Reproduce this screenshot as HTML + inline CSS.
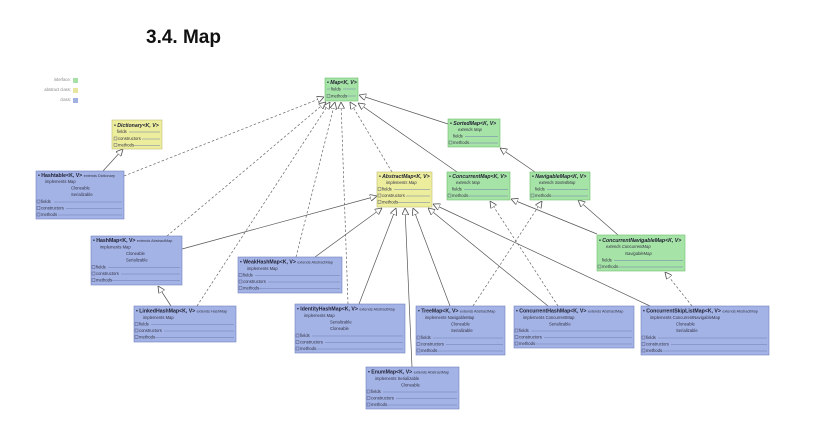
<!DOCTYPE html>
<html><head><meta charset="utf-8"><style>
html,body{margin:0;padding:0;background:#fff;width:815px;height:421px;overflow:hidden}
svg{display:block}
text{font-family:"Liberation Sans",sans-serif;fill:#223}
.h{font-size:5.2px;font-weight:bold}
.i{font-style:italic}
.s{font-size:4.2px;fill:#334}
.e{font-size:3.8px;font-weight:normal;font-style:normal;fill:#334}
.sep{stroke:#6f7fb0;stroke-width:0.5}
.l{stroke:#555;stroke-width:0.7;fill:none}
.d{stroke:#666;stroke-width:0.7;fill:none;stroke-dasharray:2.5,2}
</style></head><body>
<svg width="815" height="421" viewBox="0 0 815 421" xmlns="http://www.w3.org/2000/svg">
<defs>
<marker id="a" viewBox="0 0 10 10" refX="10" refY="5" markerWidth="7" markerHeight="7" orient="auto" markerUnits="userSpaceOnUse">
<path d="M0,0 L10,5 L0,10 Z" fill="#fff" stroke="#555" stroke-width="1.2"/>
</marker>
</defs>
<text x="146" y="43" style="font-size:19px;font-weight:bold;fill:#111">3.4. Map</text>
<!-- legend -->
<text x="71" y="81" class="s" text-anchor="end" style="fill:#888">interface:</text>
<text x="71" y="91" class="s" text-anchor="end" style="fill:#888">abstract class:</text>
<text x="71" y="101" class="s" text-anchor="end" style="fill:#888">class:</text>
<rect x="73" y="78" width="5" height="5" fill="#a6e0a6"/>
<rect x="73" y="88" width="5" height="5" fill="#e6e6a0"/>
<rect x="73" y="98" width="5" height="5" fill="#a0b0e0"/>

<!-- connectors -->
<g>
<line class="l" x1="103" y1="171" x2="123" y2="149" marker-end="url(#a)"/>
<line class="d" x1="124" y1="176" x2="324" y2="97" marker-end="url(#a)"/>
<line class="d" x1="167" y1="236" x2="326" y2="102" marker-end="url(#a)"/>
<line class="d" x1="197" y1="306" x2="330" y2="102" marker-end="url(#a)"/>
<line class="d" x1="296" y1="257" x2="335" y2="102" marker-end="url(#a)"/>
<line class="d" x1="348" y1="304" x2="341" y2="102" marker-end="url(#a)"/>
<line class="d" x1="392" y1="172" x2="350" y2="102" marker-end="url(#a)"/>
<line class="l" x1="448" y1="124" x2="359" y2="95" marker-end="url(#a)"/>
<line class="l" x1="457" y1="172" x2="358" y2="103" marker-end="url(#a)"/>
<line class="l" x1="535" y1="172" x2="500" y2="148" marker-end="url(#a)"/>
<line class="l" x1="597" y1="234" x2="511" y2="199" marker-end="url(#a)"/>
<line class="l" x1="618" y1="235" x2="578" y2="200" marker-end="url(#a)"/>
<line class="l" x1="182" y1="249" x2="377" y2="196" marker-end="url(#a)"/>
<line class="l" x1="315" y1="257" x2="382" y2="208" marker-end="url(#a)"/>
<line class="l" x1="171" y1="306" x2="158" y2="286" marker-end="url(#a)"/>
<line class="l" x1="359" y1="304" x2="396" y2="208" marker-end="url(#a)"/>
<line class="l" x1="412" y1="367" x2="405" y2="208" marker-end="url(#a)"/>
<line class="l" x1="450" y1="306" x2="413" y2="208" marker-end="url(#a)"/>
<line class="l" x1="548" y1="306" x2="428" y2="208" marker-end="url(#a)"/>
<line class="l" x1="650" y1="306" x2="433" y2="204" marker-end="url(#a)"/>
<line class="d" x1="473" y1="306" x2="542" y2="201" marker-end="url(#a)"/>
<line class="d" x1="558" y1="306" x2="490" y2="201" marker-end="url(#a)"/>
<line class="d" x1="692" y1="306" x2="665" y2="272" marker-end="url(#a)"/>
</g>

<!-- Map -->
<g>
<rect x="325" y="78" width="33" height="23" fill="#a6e3a6" stroke="#6dbf6d" stroke-width="0.6"/>
<text x="327" y="84" class="h i">• Map&lt;K, V&gt;</text>
<text x="331" y="90.5" class="s">fields</text><line class="sep" x1="327" y1="89" x2="330" y2="89"/><line class="sep" x1="343" y1="89" x2="356" y2="89"/>
<rect x="327" y="94.5" width="3" height="3" fill="none" stroke="#446" stroke-width="0.4"/>
<text x="331" y="97.5" class="s">methods</text><line class="sep" x1="346" y1="96" x2="356" y2="96"/>
</g>

<!-- Dictionary -->
<g>
<rect x="112" y="120" width="50" height="29" fill="#eded9e" stroke="#c0c070" stroke-width="0.6"/>
<text x="114" y="127" class="h i">• Dictionary&lt;K, V&gt;</text>
<text x="117" y="133" class="s">fields</text><line class="sep" x1="129" y1="132" x2="160" y2="132"/>
<rect x="114" y="137" width="3" height="3" fill="none" stroke="#446" stroke-width="0.4"/>
<text x="118" y="140" class="s">constructors</text><line class="sep" x1="142" y1="139" x2="160" y2="139"/>
<rect x="114" y="143.5" width="3" height="3" fill="none" stroke="#446" stroke-width="0.4"/>
<text x="118" y="146.5" class="s">methods</text><line class="sep" x1="134" y1="145.5" x2="160" y2="145.5"/>
</g>

<!-- Hashtable -->
<g>
<rect x="36" y="171" width="88" height="48" fill="#a3b3e6" stroke="#7082c0" stroke-width="0.6"/>
<text x="38" y="177" class="h">• Hashtable&lt;K, V&gt; <tspan class="e">extends Dictionary</tspan></text>
<text x="45" y="183" class="s">implements  Map</text>
<text x="71" y="189.5" class="s">Cloneable</text>
<text x="71" y="196" class="s">Serializable</text>
<g class="s"><text x="41" y="203" class="s">fields</text><text x="41" y="209.5" class="s">constructors</text><text x="41" y="216" class="s">methods</text></g>
<line class="sep" x1="54" y1="202" x2="122" y2="202"/><line class="sep" x1="66" y1="208.5" x2="122" y2="208.5"/><line class="sep" x1="58" y1="215" x2="122" y2="215"/>
<rect x="37" y="200" width="3" height="3" fill="none" stroke="#446" stroke-width="0.4"/><rect x="37" y="206.5" width="3" height="3" fill="none" stroke="#446" stroke-width="0.4"/><rect x="37" y="213" width="3" height="3" fill="none" stroke="#446" stroke-width="0.4"/>
</g>

<!-- AbstractMap -->
<g>
<rect x="377" y="172" width="55" height="35" fill="#eded9e" stroke="#c0c070" stroke-width="0.6"/>
<text x="379" y="178" class="h i">• AbstractMap&lt;K, V&gt;</text>
<text x="386" y="184" class="s" font-style="italic">implements  Map</text>
<text x="382" y="190.5" class="s">fields</text><text x="382" y="197" class="s">constructors</text><text x="382" y="203.5" class="s">methods</text>
<line class="sep" x1="394" y1="189.5" x2="430" y2="189.5"/><line class="sep" x1="406" y1="196" x2="430" y2="196"/><line class="sep" x1="398" y1="202.5" x2="430" y2="202.5"/>
<rect x="378" y="187.5" width="3" height="3" fill="none" stroke="#446" stroke-width="0.4"/><rect x="378" y="194" width="3" height="3" fill="none" stroke="#446" stroke-width="0.4"/><rect x="378" y="200.5" width="3" height="3" fill="none" stroke="#446" stroke-width="0.4"/>
</g>

<!-- SortedMap -->
<g>
<rect x="448" y="119" width="52" height="28" fill="#a6e3a6" stroke="#6dbf6d" stroke-width="0.6"/>
<text x="450" y="125" class="h i">• SortedMap&lt;K, V&gt;</text>
<text x="458" y="131" class="s" font-style="italic">extends  Map</text>
<text x="453" y="137.5" class="s">fields</text><line class="sep" x1="465" y1="136.5" x2="498" y2="136.5"/>
<rect x="449" y="141" width="3" height="3" fill="none" stroke="#446" stroke-width="0.4"/>
<text x="453" y="144" class="s">methods</text><line class="sep" x1="469" y1="143" x2="498" y2="143"/>
</g>

<!-- ConcurrentMap -->
<g>
<rect x="447" y="172" width="63" height="28" fill="#a6e3a6" stroke="#6dbf6d" stroke-width="0.6"/>
<text x="449" y="178" class="h i">• ConcurrentMap&lt;K, V&gt;</text>
<text x="456" y="184" class="s" font-style="italic">extends  Map</text>
<text x="452" y="190.5" class="s">fields</text><line class="sep" x1="464" y1="189.5" x2="508" y2="189.5"/>
<rect x="448" y="194" width="3" height="3" fill="none" stroke="#446" stroke-width="0.4"/>
<text x="452" y="197" class="s">methods</text><line class="sep" x1="468" y1="196" x2="508" y2="196"/>
</g>

<!-- NavigableMap -->
<g>
<rect x="530" y="172" width="60" height="28" fill="#a6e3a6" stroke="#6dbf6d" stroke-width="0.6"/>
<text x="532" y="178" class="h i">• NavigableMap&lt;K, V&gt;</text>
<text x="539" y="184" class="s" font-style="italic">extends  SortedMap</text>
<text x="535" y="190.5" class="s">fields</text><line class="sep" x1="547" y1="189.5" x2="588" y2="189.5"/>
<rect x="531" y="194" width="3" height="3" fill="none" stroke="#446" stroke-width="0.4"/>
<text x="535" y="197" class="s">methods</text><line class="sep" x1="551" y1="196" x2="588" y2="196"/>
</g>

<!-- ConcurrentNavigableMap -->
<g>
<rect x="597" y="235" width="88" height="36" fill="#a6e3a6" stroke="#6dbf6d" stroke-width="0.6"/>
<text x="599" y="242" class="h i">• ConcurrentNavigableMap&lt;K, V&gt;</text>
<text x="606" y="248" class="s" font-style="italic">extends  ConcurrentMap</text>
<text x="625" y="255" class="s" font-style="italic">NavigableMap</text>
<text x="602" y="261.5" class="s">fields</text><line class="sep" x1="614" y1="260.5" x2="683" y2="260.5"/>
<rect x="598" y="265" width="3" height="3" fill="none" stroke="#446" stroke-width="0.4"/>
<text x="602" y="268" class="s">methods</text><line class="sep" x1="618" y1="267" x2="683" y2="267"/>
</g>

<!-- HashMap -->
<g>
<rect x="91" y="236" width="91" height="49" fill="#a3b3e6" stroke="#7082c0" stroke-width="0.6"/>
<text x="93" y="242" class="h">• HashMap&lt;K, V&gt; <tspan class="e">extends AbstractMap</tspan></text>
<text x="100" y="248.5" class="s">implements  Map</text>
<text x="126" y="255" class="s">Cloneable</text>
<text x="126" y="261.5" class="s">Serializable</text>
<text x="96" y="268.5" class="s">fields</text><text x="96" y="275" class="s">constructors</text><text x="96" y="281.5" class="s">methods</text>
<line class="sep" x1="108" y1="267.5" x2="180" y2="267.5"/><line class="sep" x1="121" y1="274" x2="180" y2="274"/><line class="sep" x1="112" y1="280.5" x2="180" y2="280.5"/>
<rect x="92" y="265.5" width="3" height="3" fill="none" stroke="#446" stroke-width="0.4"/><rect x="92" y="272" width="3" height="3" fill="none" stroke="#446" stroke-width="0.4"/><rect x="92" y="278.5" width="3" height="3" fill="none" stroke="#446" stroke-width="0.4"/>
</g>

<!-- WeakHashMap -->
<g>
<rect x="238" y="257" width="104" height="36" fill="#a3b3e6" stroke="#7082c0" stroke-width="0.6"/>
<text x="240" y="263.5" class="h">• WeakHashMap&lt;K, V&gt; <tspan class="e">extends AbstractMap</tspan></text>
<text x="247" y="270" class="s">implements  Map</text>
<text x="243" y="276.5" class="s">fields</text><text x="243" y="283" class="s">constructors</text><text x="243" y="289.5" class="s">methods</text>
<line class="sep" x1="255" y1="275.5" x2="340" y2="275.5"/><line class="sep" x1="268" y1="282" x2="340" y2="282"/><line class="sep" x1="259" y1="288.5" x2="340" y2="288.5"/>
<rect x="239" y="273.5" width="3" height="3" fill="none" stroke="#446" stroke-width="0.4"/><rect x="239" y="280" width="3" height="3" fill="none" stroke="#446" stroke-width="0.4"/><rect x="239" y="286.5" width="3" height="3" fill="none" stroke="#446" stroke-width="0.4"/>
</g>

<!-- LinkedHashMap -->
<g>
<rect x="134" y="306" width="102" height="36" fill="#a3b3e6" stroke="#7082c0" stroke-width="0.6"/>
<text x="136" y="312.5" class="h">• LinkedHashMap&lt;K, V&gt; <tspan class="e">extends HashMap</tspan></text>
<text x="143" y="319" class="s">implements  Map</text>
<text x="139" y="325.5" class="s">fields</text><text x="139" y="332" class="s">constructors</text><text x="139" y="338.5" class="s">methods</text>
<line class="sep" x1="151" y1="324.5" x2="234" y2="324.5"/><line class="sep" x1="164" y1="331" x2="234" y2="331"/><line class="sep" x1="155" y1="337.5" x2="234" y2="337.5"/>
<rect x="135" y="322.5" width="3" height="3" fill="none" stroke="#446" stroke-width="0.4"/><rect x="135" y="329" width="3" height="3" fill="none" stroke="#446" stroke-width="0.4"/><rect x="135" y="335.5" width="3" height="3" fill="none" stroke="#446" stroke-width="0.4"/>
</g>

<!-- IdentityHashMap -->
<g>
<rect x="295" y="304" width="110" height="49" fill="#a3b3e6" stroke="#7082c0" stroke-width="0.6"/>
<text x="297" y="310.5" class="h">• IdentityHashMap&lt;K, V&gt; <tspan class="e">extends AbstractMap</tspan></text>
<text x="304" y="317" class="s">implements  Map</text>
<text x="330" y="323.5" class="s">Serializable</text>
<text x="330" y="330" class="s">Cloneable</text>
<text x="300" y="337" class="s">fields</text><text x="300" y="343.5" class="s">constructors</text><text x="300" y="350" class="s">methods</text>
<line class="sep" x1="312" y1="336" x2="403" y2="336"/><line class="sep" x1="325" y1="342.5" x2="403" y2="342.5"/><line class="sep" x1="316" y1="349" x2="403" y2="349"/>
<rect x="296" y="334" width="3" height="3" fill="none" stroke="#446" stroke-width="0.4"/><rect x="296" y="340.5" width="3" height="3" fill="none" stroke="#446" stroke-width="0.4"/><rect x="296" y="347" width="3" height="3" fill="none" stroke="#446" stroke-width="0.4"/>
</g>

<!-- TreeMap -->
<g>
<rect x="416" y="306" width="89" height="49" fill="#a3b3e6" stroke="#7082c0" stroke-width="0.6"/>
<text x="418" y="312.5" class="h">• TreeMap&lt;K, V&gt; <tspan class="e">extends AbstractMap</tspan></text>
<text x="425" y="319" class="s">implements  NavigableMap</text>
<text x="451" y="325.5" class="s">Cloneable</text>
<text x="451" y="332" class="s">Serializable</text>
<text x="421" y="339" class="s">fields</text><text x="421" y="345.5" class="s">constructors</text><text x="421" y="352" class="s">methods</text>
<line class="sep" x1="433" y1="338" x2="503" y2="338"/><line class="sep" x1="446" y1="344.5" x2="503" y2="344.5"/><line class="sep" x1="437" y1="351" x2="503" y2="351"/>
<rect x="417" y="336" width="3" height="3" fill="none" stroke="#446" stroke-width="0.4"/><rect x="417" y="342.5" width="3" height="3" fill="none" stroke="#446" stroke-width="0.4"/><rect x="417" y="349" width="3" height="3" fill="none" stroke="#446" stroke-width="0.4"/>
</g>

<!-- ConcurrentHashMap -->
<g>
<rect x="514" y="306" width="120" height="42" fill="#a3b3e6" stroke="#7082c0" stroke-width="0.6"/>
<text x="516" y="312.5" class="h">• ConcurrentHashMap&lt;K, V&gt; <tspan class="e">extends AbstractMap</tspan></text>
<text x="523" y="319" class="s">implements  ConcurrentMap</text>
<text x="549" y="325.5" class="s">Serializable</text>
<text x="519" y="332" class="s">fields</text><text x="519" y="338.5" class="s">constructors</text><text x="519" y="345" class="s">methods</text>
<line class="sep" x1="531" y1="331" x2="632" y2="331"/><line class="sep" x1="544" y1="337.5" x2="632" y2="337.5"/><line class="sep" x1="535" y1="344" x2="632" y2="344"/>
<rect x="515" y="329" width="3" height="3" fill="none" stroke="#446" stroke-width="0.4"/><rect x="515" y="335.5" width="3" height="3" fill="none" stroke="#446" stroke-width="0.4"/><rect x="515" y="342" width="3" height="3" fill="none" stroke="#446" stroke-width="0.4"/>
</g>

<!-- ConcurrentSkipListMap -->
<g>
<rect x="641" y="306" width="128" height="49" fill="#a3b3e6" stroke="#7082c0" stroke-width="0.6"/>
<text x="643" y="312.5" class="h">• ConcurrentSkipListMap&lt;K, V&gt; <tspan class="e">extends AbstractMap</tspan></text>
<text x="650" y="319" class="s">implements  ConcurrentNavigableMap</text>
<text x="676" y="325.5" class="s">Cloneable</text>
<text x="676" y="332" class="s">Serializable</text>
<text x="646" y="339" class="s">fields</text><text x="646" y="345.5" class="s">constructors</text><text x="646" y="352" class="s">methods</text>
<line class="sep" x1="658" y1="338" x2="767" y2="338"/><line class="sep" x1="671" y1="344.5" x2="767" y2="344.5"/><line class="sep" x1="662" y1="351" x2="767" y2="351"/>
<rect x="642" y="336" width="3" height="3" fill="none" stroke="#446" stroke-width="0.4"/><rect x="642" y="342.5" width="3" height="3" fill="none" stroke="#446" stroke-width="0.4"/><rect x="642" y="349" width="3" height="3" fill="none" stroke="#446" stroke-width="0.4"/>
</g>

<!-- EnumMap -->
<g>
<rect x="366" y="367" width="93" height="42" fill="#a3b3e6" stroke="#7082c0" stroke-width="0.6"/>
<text x="368" y="373.5" class="h">• EnumMap&lt;K, V&gt; <tspan class="e">extends AbstractMap</tspan></text>
<text x="375" y="380" class="s">implements  Serializable</text>
<text x="401" y="386.5" class="s">Cloneable</text>
<text x="371" y="393" class="s">fields</text><text x="371" y="399.5" class="s">constructors</text><text x="371" y="406" class="s">methods</text>
<line class="sep" x1="383" y1="392" x2="457" y2="392"/><line class="sep" x1="396" y1="398.5" x2="457" y2="398.5"/><line class="sep" x1="387" y1="405" x2="457" y2="405"/>
<rect x="367" y="390" width="3" height="3" fill="none" stroke="#446" stroke-width="0.4"/><rect x="367" y="396.5" width="3" height="3" fill="none" stroke="#446" stroke-width="0.4"/><rect x="367" y="403" width="3" height="3" fill="none" stroke="#446" stroke-width="0.4"/>
</g>
</svg>
</body></html>
